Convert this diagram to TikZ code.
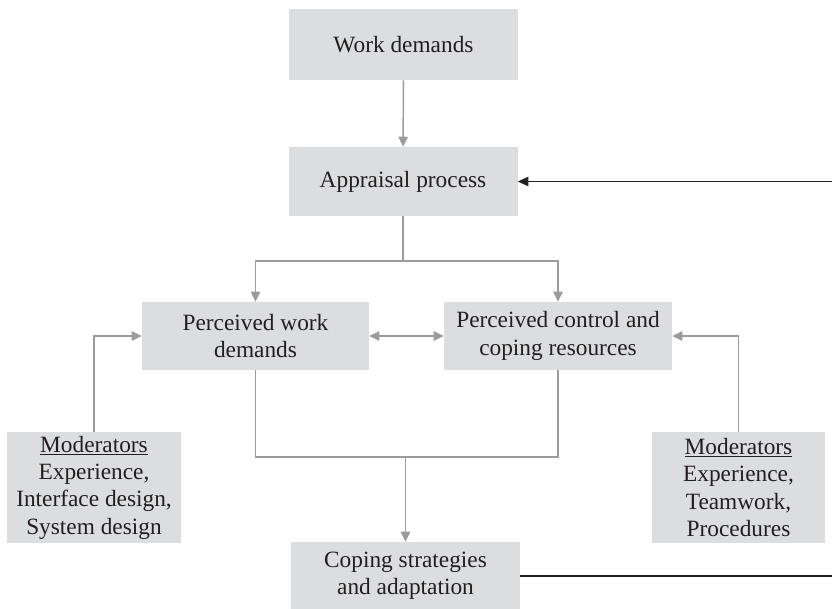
\documentclass[tikz,border=0pt]{standalone}
\usepackage{fontspec}
\setmainfont{Liberation Serif}
\usetikzlibrary{arrows.meta}
\definecolor{boxfill}{HTML}{DCDDDF}
\definecolor{linkgray}{HTML}{9B9B9B}
\definecolor{inkdark}{HTML}{231F20}
\tikzset{
  stagebox/.style={rectangle, fill=boxfill, inner sep=0pt, align=center,
    text=inkdark, font=\fontsize{17.5}{20.5}\selectfont},
  wide/.style={minimum width=229*0.75pt},
  tall/.style={minimum height=69*0.75pt},
  modbox/.style={stagebox, minimum height=111*0.75pt},
  glink/.style={draw=linkgray, line width=1.1pt},
  garrow/.style={glink, -{Triangle[length=7.5pt,width=7pt]}},
  gboth/.style={glink, {Triangle[length=7.5pt,width=7pt]}-{Triangle[length=7.5pt,width=7pt]}},
  feedback/.style={draw=inkdark, line width=1.1pt, -{Triangle[length=8pt,width=7pt]}}
}
\begin{document}
\begin{tikzpicture}[x=0.75pt,y=-0.75pt]
\useasboundingbox (0,0) rectangle (832,608);

% stages
\node[stagebox, wide, minimum height=71*0.75pt] (wd) at (403.5,44.5) {Work demands};
\node[stagebox, wide, tall] (ap) at (403,181.5) {Appraisal process};
\node[stagebox, minimum width=227*0.75pt, minimum height=68*0.75pt] (pwd) at (255.5,336) {Perceived work\\demands};
\node[stagebox, minimum width=228*0.75pt, minimum height=68*0.75pt] (pcc) at (558,336) {Perceived control and\\coping resources};
\node[stagebox, wide, minimum height=68*0.75pt] (csa) at (405.5,576) {Coping strategies\\and adaptation};

% moderators
\node[modbox, minimum width=174*0.75pt] (ml) at (94,487.5) {\underline{Moderators}\\Experience,\\Interface design,\\System design};
\node[modbox, minimum width=173*0.75pt] (mr) at (738.5,487.5) {\underline{Moderators}\\Experience,\\Teamwork,\\Procedures};

% junction points
\coordinate (split) at (403,261);
\coordinate (join) at (405.5,457);

% connectors
\draw[garrow] (wd) -- (ap);
\draw[glink] (ap.south) -- (split);
\draw[garrow] (split) -| (pwd.north);
\draw[garrow] (split) -| (pcc.north);
\draw[gboth] (pwd.east) -- (pcc.west);
\draw[garrow] (ml.north) |- (pwd.west);
\draw[garrow] (mr.north) |- (pcc.east);
\draw[glink] (pwd.south) |- (join) -| (pcc.south);
\draw[garrow] (join) -- (csa.north);

% feedback loop, its right-hand run lies past the page edge
\draw[feedback] (csa.east) -- (838,576) -- (838,181.5) -- (ap.east);
\end{tikzpicture}
\end{document}
